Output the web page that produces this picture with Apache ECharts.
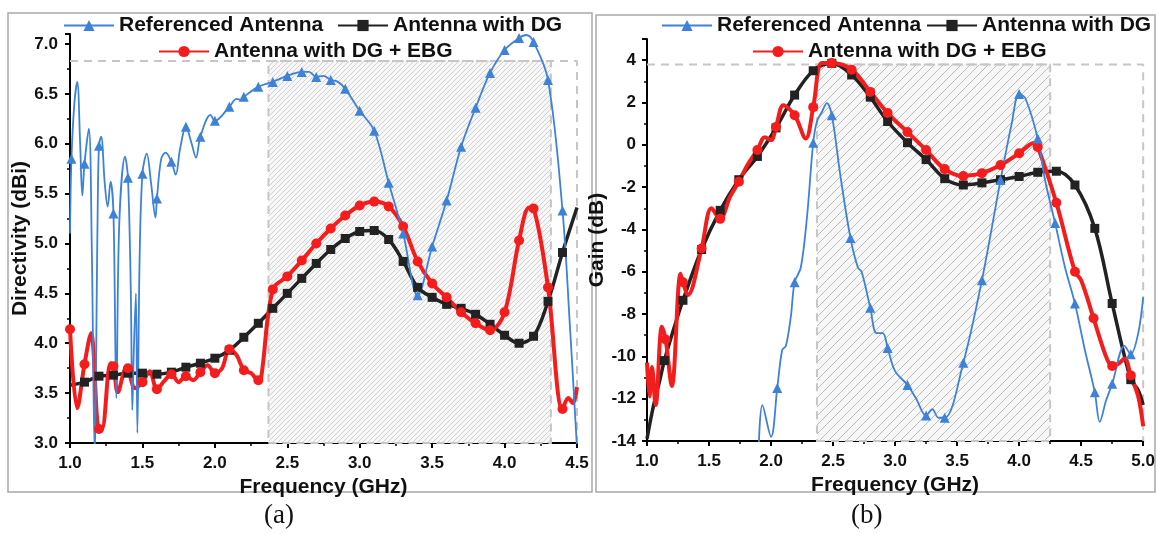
<!DOCTYPE html>
<html>
<head>
<meta charset="utf-8">
<script src="https://cdn.jsdelivr.net/npm/echarts@6/dist/echarts.min.js"></script>
<style>html,body{margin:0;padding:0;background:#fff}#c{width:1158px;height:534px}</style>
</head>
<body>
<div id="c"></div>
<script>
// ---------- Panel (a): Directivity ----------
const refA_x = [1.000,1.010,1.030,1.050,1.070,1.085,1.100,1.130,1.150,1.170,1.190,1.200,1.215,1.240,1.260,1.280,1.300,1.320,1.340,1.380,1.400,1.420,1.430,1.440,1.455,1.465,1.480,1.500,1.530,1.560,1.590,1.600,1.630,1.660,1.700,1.730,1.760,1.800,1.840,1.870,1.900,1.970,2.000,2.100,2.150,2.180,2.200,2.300,2.400,2.500,2.600,2.650,2.700,2.750,2.800,2.850,2.900,3.000,3.100,3.200,3.300,3.400,3.500,3.600,3.700,3.800,3.900,4.000,4.100,4.150,4.200,4.300,4.400,4.450,4.500];
const refA_y = [5.10,5.85,6.40,6.62,6.00,5.48,5.80,6.15,5.00,2.90,5.20,5.98,6.07,5.60,5.37,5.62,5.30,3.45,5.20,5.87,5.66,4.50,3.33,3.90,4.50,3.10,4.80,5.70,5.90,5.60,5.26,5.45,5.85,5.91,5.82,5.69,5.95,6.17,6.00,5.86,6.07,6.29,6.23,6.37,6.45,6.44,6.47,6.57,6.62,6.68,6.72,6.72,6.67,6.68,6.64,6.62,6.55,6.33,6.13,5.61,5.10,4.48,4.97,5.43,5.97,6.36,6.71,6.94,7.06,7.09,7.02,6.64,5.33,4.20,2.95];
const refA_mk = [1.01,1.1,1.2,1.3,1.4,1.5,1.6,1.7,1.8,1.9,2.0,2.1,2.2,2.3,2.4,2.5,2.6,2.7,2.8,2.9,3.0,3.1,3.2,3.3,3.4,3.5,3.6,3.7,3.8,3.9,4.0,4.1,4.2,4.3,4.4];

const dgA_x = [1.0,1.1,1.2,1.3,1.4,1.5,1.6,1.7,1.8,1.9,2.0,2.1,2.2,2.3,2.4,2.5,2.6,2.7,2.8,2.9,3.0,3.1,3.2,3.3,3.4,3.5,3.6,3.7,3.8,3.9,4.0,4.1,4.2,4.3,4.4,4.5];
const dgA_y = [3.58,3.61,3.67,3.68,3.70,3.70,3.69,3.71,3.76,3.80,3.85,3.93,4.06,4.20,4.35,4.50,4.65,4.80,4.94,5.05,5.12,5.13,5.04,4.82,4.56,4.46,4.39,4.35,4.29,4.19,4.08,4.00,4.07,4.42,4.91,5.36];
const dgA_mk = [1.1,1.2,1.3,1.4,1.5,1.6,1.7,1.8,1.9,2.0,2.1,2.2,2.3,2.4,2.5,2.6,2.7,2.8,2.9,3.0,3.1,3.2,3.3,3.4,3.5,3.6,3.7,3.8,3.9,4.0,4.1,4.2,4.3,4.4];

const ebgA_x = [1.00,1.05,1.10,1.145,1.20,1.22,1.28,1.30,1.33,1.39,1.40,1.45,1.50,1.55,1.60,1.65,1.70,1.75,1.80,1.85,1.90,1.95,2.00,2.05,2.10,2.15,2.20,2.25,2.30,2.32,2.40,2.50,2.60,2.70,2.80,2.90,3.00,3.10,3.20,3.30,3.40,3.50,3.60,3.70,3.80,3.90,4.00,4.10,4.17,4.20,4.30,4.40,4.44,4.47,4.50];
const ebgA_y = [4.14,3.35,3.79,4.10,3.14,3.14,3.80,3.77,3.51,3.76,3.75,3.55,3.61,3.72,3.54,3.62,3.69,3.61,3.67,3.63,3.71,3.78,3.70,3.75,3.94,3.88,3.73,3.70,3.63,3.66,4.54,4.67,4.83,5.00,5.15,5.28,5.38,5.42,5.37,5.17,4.82,4.60,4.46,4.31,4.20,4.13,4.31,5.03,5.36,5.35,4.56,3.34,3.45,3.40,3.56];
const ebgA_mk = [1.0,1.1,1.2,1.3,1.4,1.5,1.6,1.7,1.8,1.9,2.0,2.1,2.2,2.3,2.4,2.5,2.6,2.7,2.8,2.9,3.0,3.1,3.2,3.3,3.4,3.5,3.6,3.7,3.8,3.9,4.0,4.1,4.2,4.3,4.4];

// highlighted band and dashed frame (a)
const bandA = [2.37, 4.32, 3.0, 6.83];
const frameA_x = [1.0, 4.5, 4.5];
const frameA_y = [6.83, 6.83, 3.0];

// ---------- Panel (b): Gain ----------
const refB_x = [1.90,1.93,2.00,2.05,2.09,2.12,2.16,2.19,2.24,2.29,2.34,2.37,2.41,2.45,2.49,2.56,2.64,2.70,2.73,2.80,2.85,2.90,2.94,3.00,3.10,3.17,3.25,3.30,3.35,3.40,3.55,3.70,3.85,3.94,4.00,4.05,4.15,4.21,4.29,4.37,4.45,4.53,4.61,4.65,4.70,4.75,4.85,4.90,4.96,5.00];
const refB_y = [-14.5,-12.3,-13.8,-11.5,-9.7,-9.5,-8.1,-6.5,-5.8,-3.4,0.1,1.1,1.55,1.97,1.4,-1.5,-4.4,-5.8,-6.0,-7.7,-8.9,-8.9,-9.6,-10.7,-11.35,-12.0,-12.8,-12.5,-12.9,-12.9,-10.3,-6.4,-1.67,1.0,2.4,2.2,0.3,-1.7,-3.7,-5.8,-7.5,-9.7,-11.7,-13.1,-12.1,-11.3,-9.5,-9.9,-8.9,-7.2];
const refB_mk = [2.05,2.19,2.34,2.49,2.64,2.80,2.94,3.10,3.25,3.40,3.55,3.70,3.85,4.00,4.15,4.29,4.45,4.61,4.75,4.90];

const dgB_x = [1.00,1.05,1.10,1.14,1.20,1.29,1.44,1.59,1.74,1.89,2.04,2.19,2.34,2.49,2.65,2.80,2.94,3.10,3.25,3.40,3.55,3.70,3.85,4.00,4.15,4.30,4.45,4.61,4.75,4.90,4.96,5.00];
const dgB_y = [-13.9,-12.4,-11.2,-10.2,-9.0,-7.35,-4.95,-3.1,-1.65,-0.55,0.8,2.35,3.5,3.85,3.3,2.25,1.1,0.1,-0.7,-1.6,-1.9,-1.8,-1.65,-1.5,-1.3,-1.25,-1.9,-3.95,-7.5,-11.1,-11.6,-12.3];
const dgB_mk = [1.14,1.29,1.44,1.59,1.74,1.89,2.04,2.19,2.34,2.49,2.65,2.80,2.94,3.10,3.25,3.40,3.55,3.70,3.85,4.00,4.15,4.30,4.45,4.61,4.75,4.90];

const ebgB_x = [1.00,1.02,1.04,1.07,1.12,1.15,1.20,1.27,1.29,1.33,1.44,1.52,1.59,1.67,1.74,1.81,1.89,1.95,2.00,2.04,2.10,2.19,2.28,2.34,2.41,2.49,2.65,2.80,2.94,3.10,3.25,3.40,3.55,3.70,3.85,4.00,4.12,4.15,4.30,4.45,4.50,4.60,4.70,4.75,4.80,4.85,4.90,4.96,5.00];
const ebgB_y = [-10.3,-11.9,-10.5,-12.3,-8.6,-9.2,-11.4,-6.1,-6.5,-7.1,-4.9,-3.0,-3.5,-2.45,-1.75,-0.95,-0.25,0.36,0.22,0.84,1.87,1.4,0.3,1.78,3.86,3.86,3.55,2.5,1.5,0.6,-0.25,-1.15,-1.48,-1.34,-0.96,-0.4,0.08,-0.1,-2.74,-6.0,-6.4,-8.2,-10.0,-10.45,-10.35,-10.1,-10.9,-11.9,-13.3];
const ebgB_mk = [1.15,1.29,1.44,1.59,1.74,1.89,2.04,2.19,2.34,2.49,2.65,2.80,2.94,3.10,3.25,3.40,3.55,3.70,3.85,4.00,4.15,4.30,4.45,4.60,4.75,4.90];

const bandB = [2.37, 4.25, -14, 3.8];
const frameB_x = [1.0, 5.0, 5.0];
const frameB_y = [3.8, 3.8, -14];

// tick settings
const xTicksA = {min: 1.0, max: 4.5, interval: 0.5};
const yTicksA = {min: 3.0, max: 7.1, interval: 0.5};
const xTicksB = {min: 1.0, max: 5.0, interval: 0.5};
const yTicksB = {min: -14, max: 5, interval: 2};

const NAMES = ['Referenced Antenna', 'Antenna with DG', 'Antenna with DG + EBG'];
const FONT = 'Liberation Sans, Arial, sans-serif';

function build(xs, ys, mk, sym) {
  return xs.map((x, i) => ({
    value: [x, ys[i]],
    symbol: mk.some(m => Math.abs(m - x) < 1e-9) ? sym : 'none'
  }));
}
function pair(xs, ys) { return xs.map((x, i) => [x, ys[i]]); }

function hatch(size, bg, fg) {
  const c = document.createElement('canvas');
  c.width = size; c.height = size;
  const g = c.getContext('2d');
  g.fillStyle = bg; g.fillRect(0, 0, size, size);
  g.strokeStyle = fg; g.lineWidth = 1;
  g.beginPath();
  g.moveTo(0, size); g.lineTo(size, 0);
  g.moveTo(-1, 1); g.lineTo(1, -1);
  g.moveTo(size - 1, size + 1); g.lineTo(size + 1, size - 1);
  g.stroke();
  return {image: c, repeat: 'repeat'};
}

const BLUE = '#3d82d8', BLACK = '#222222', RED = '#f51c1c';

function frameSeries(xi, yi, fx, fy, band, pattern) {
  return {
    type: 'line', xAxisIndex: xi, yAxisIndex: yi, silent: true, z: 1,
    data: pair(fx, fy), symbol: 'none',
    lineStyle: {color: '#c6c6c6', width: 2, type: [8, 6]},
    markArea: {
      silent: true,
      itemStyle: {color: pattern, borderColor: '#c6c6c6', borderWidth: 2, borderType: [8, 6]},
      data: [[{xAxis: band[0], yAxis: band[2]}, {xAxis: band[1], yAxis: band[3]}]]
    }
  };
}

function dataSeries(name, xi, yi, data, color, width, sym, size) {
  return {
    name, type: 'line', xAxisIndex: xi, yAxisIndex: yi, z: 3,
    data, smooth: 0.35, symbol: sym, symbolSize: size, showSymbol: true,
    lineStyle: {color, width}, itemStyle: {color},
    emphasis: {disabled: true}, animation: false
  };
}

function axisCommon() {
  return {
    axisLine: {show: true, onZero: false, lineStyle: {color: '#000', width: 2}},
    axisTick: {show: true, inside: false, length: 5, lineStyle: {color: '#000', width: 2}},
    minorTick: {show: true, splitNumber: 2, length: 3, lineStyle: {color: '#000', width: 1.5}},
    splitLine: {show: false},
    nameTextStyle: {fontFamily: FONT, fontWeight: 'bold', fontSize: 21, color: '#111'}
  };
}
function lbl(fmt, margin) {
  return {fontFamily: FONT, fontWeight: 'bold', fontSize: 17, color: '#111', margin, formatter: fmt, showMaxLabel: false};
}
const f1 = v => v.toFixed(1);
const f0 = v => String(Math.round(v));

function legendAt(name, left, top) {
  return {
    orient: 'horizontal', itemWidth: 50, itemHeight: 14, selectedMode: false,
    left, top, width: 400, padding: 0, data: [name],
    textStyle: {fontFamily: FONT, fontWeight: 'bold', fontSize: 21, color: '#111'}
  };
}

const option = {
  backgroundColor: '#fff',
  animation: false,
  grid: [
    {left: 70, top: 34, width: 507, height: 409},
    {left: 647, top: 39, width: 498, height: 402}
  ],
  xAxis: [
    Object.assign(axisCommon(), {type: 'value', gridIndex: 0, ...xTicksA, name: 'Frequency (GHz)', nameLocation: 'middle', nameGap: 26, axisLabel: Object.assign(lbl(f1, 12), {showMaxLabel: true})}),
    Object.assign(axisCommon(), {type: 'value', gridIndex: 1, ...xTicksB, name: 'Frequency (GHz)', nameLocation: 'middle', nameGap: 26, axisLabel: Object.assign(lbl(f1, 12), {showMaxLabel: true})})
  ],
  yAxis: [
    Object.assign(axisCommon(), {type: 'value', gridIndex: 0, ...yTicksA, name: 'Directivity (dBi)', nameLocation: 'middle', nameGap: 38, axisLabel: lbl(f1, 12)}),
    Object.assign(axisCommon(), {type: 'value', gridIndex: 1, ...yTicksB, name: 'Gain (dB)', nameLocation: 'middle', nameGap: 26, axisLabel: lbl(f0, 11)})
  ],
  legend: [
    legendAt(NAMES[0], 63, 15),
    legendAt(NAMES[1], 337, 15),
    legendAt(NAMES[2], 158, 41),
    legendAt(NAMES[0], 661, 15),
    legendAt(NAMES[1], 926, 15),
    legendAt(NAMES[2], 752, 41)
  ],
  series: [
    frameSeries(0, 0, frameA_x, frameA_y, bandA, hatch(5, '#f7f7f7', '#d2d2d2')),
    frameSeries(1, 1, frameB_x, frameB_y, bandB, hatch(9, '#f7f7f7', '#bdbdbd')),
    dataSeries(NAMES[1], 0, 0, build(dgA_x, dgA_y, dgA_mk, 'rect'), BLACK, 3.5, 'rect', 9),
    dataSeries(NAMES[2], 0, 0, build(ebgA_x, ebgA_y, ebgA_mk, 'circle'), RED, 4, 'circle', 10),
    dataSeries(NAMES[0], 0, 0, build(refA_x, refA_y, refA_mk, 'triangle'), BLUE, 1.8, 'triangle', 10),
    dataSeries(NAMES[1], 1, 1, build(dgB_x, dgB_y, dgB_mk, 'rect'), BLACK, 3.5, 'rect', 9),
    dataSeries(NAMES[2], 1, 1, build(ebgB_x, ebgB_y, ebgB_mk, 'circle'), RED, 4, 'circle', 10),
    dataSeries(NAMES[0], 1, 1, build(refB_x, refB_y, refB_mk, 'triangle'), BLUE, 1.8, 'triangle', 10)
  ],
  graphic: [
    {type: 'rect', silent: true, z: -1, shape: {x: 8, y: 13, width: 584, height: 479}, style: {fill: 'none', stroke: '#a8a8a8', lineWidth: 1.5}},
    {type: 'rect', silent: true, z: -1, shape: {x: 596, y: 15, width: 559, height: 477}, style: {fill: 'none', stroke: '#a8a8a8', lineWidth: 1.5}},
    {type: 'text', silent: true, left: 264, top: 502, style: {text: '(a)', font: '27px "Liberation Serif", "Times New Roman", serif', fill: '#111'}},
    {type: 'text', silent: true, left: 851, top: 502, style: {text: '(b)', font: '27px "Liberation Serif", "Times New Roman", serif', fill: '#111'}}
  ]
};

const chart = echarts.init(document.getElementById('c'), null, {renderer: 'canvas'});
chart.setOption(option);
</script>
</body>
</html>
